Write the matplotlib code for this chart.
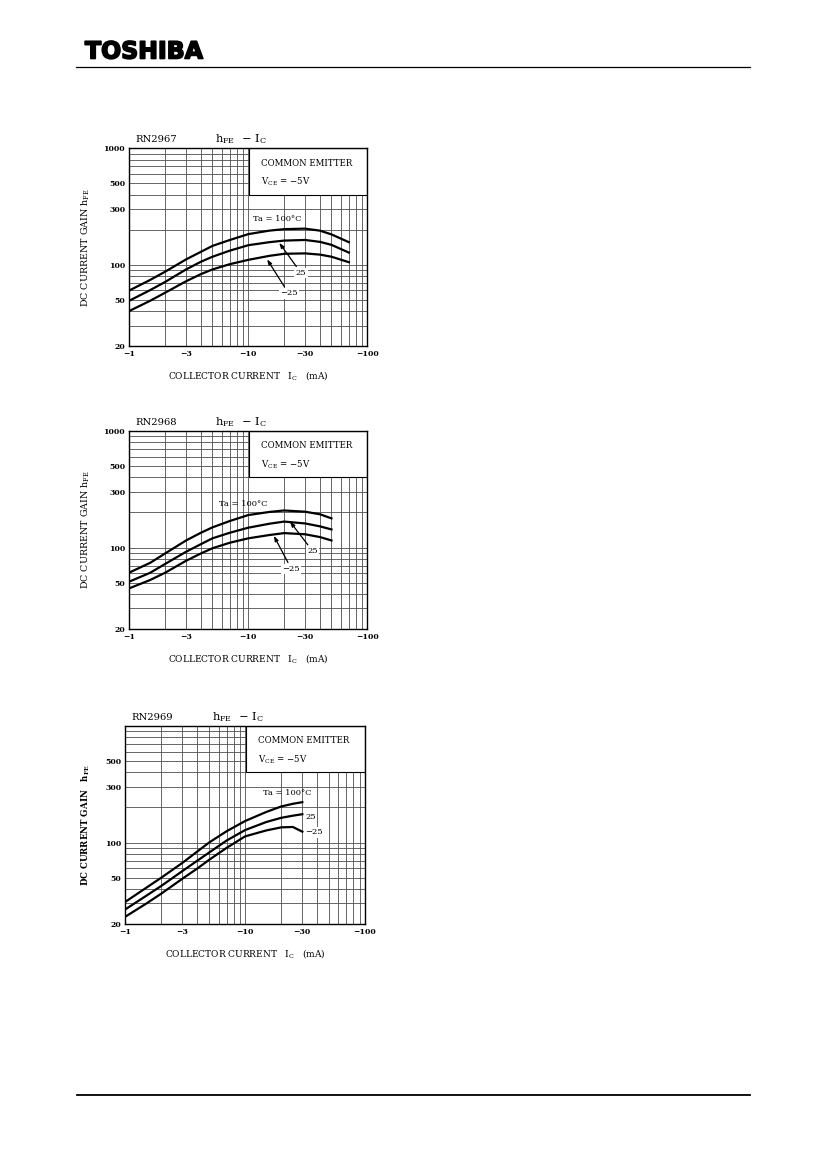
import matplotlib
matplotlib.use('Agg')
import matplotlib.pyplot as plt
import matplotlib.patheffects as pe
from matplotlib.lines import Line2D
from matplotlib.patches import Rectangle

# collector current magnitude (mA), shown as negative values on the axis
ic_2967 = [1, 1.5, 2, 3, 4, 5, 7, 10, 15, 20, 30, 40, 50, 70]
hfe_2967_100 = [60, 74, 87, 111, 129, 145, 163, 183, 196, 202, 204, 196, 182, 156]
hfe_2967_25 = [49, 60.5, 71, 91, 106, 117, 132, 147, 156, 161, 163, 157, 148, 127]
hfe_2967_m25 = [40, 49, 57.4, 72, 83, 91, 101, 110, 119, 124, 125, 122, 117, 105]

ic_2968 = [1, 1.5, 2, 3, 4, 5, 7, 10, 15, 20, 30, 40, 50]
hfe_2968_100 = [61, 74, 89, 115, 134, 149, 169, 190, 202, 208, 203, 193, 178]
hfe_2968_25 = [51, 60.8, 72.3, 92, 107, 120, 134, 148, 160, 167, 161, 152, 143]
hfe_2968_m25 = [44.7, 52.7, 60.8, 77, 89, 98.6, 110, 120, 128, 133, 130, 123, 115]

ic_2969 = [1, 1.5, 2, 3, 4, 5, 7, 10, 15, 20, 25, 30]
hfe_2969_100 = [31, 41, 50, 67, 84, 100, 125, 153, 183, 204, 215, 222]
hfe_2969_25 = [26.7, 35, 42.5, 57, 70, 82, 104, 128, 150, 163, 170, 175]
hfe_2969_m25 = [23.1, 30, 36.5, 49, 60, 71, 90, 113, 127, 135, 136, 124]

x_ticks = [1, 3, 10, 30, 100]
x_tick_labels = ['\u22121', '\u22123', '\u221210', '\u221230', '\u2212100']
y_ticks_full = [20, 50, 100, 300, 500, 1000]
y_ticks_3 = [20, 50, 100, 300, 500]

x_grid = [1, 2, 3, 4, 5, 6, 7, 8, 9, 10, 20, 30, 40, 50, 60, 70, 80, 90, 100]
y_grid = [20, 30, 40, 50, 60, 70, 80, 90, 100, 200, 300, 400, 500, 600, 700, 800, 900, 1000]

FIG_W = 827
FIG_H = 1169
MINUS = '\u2212'


def setRCParameters():

    plt.rcParams['font.family'] = 'DejaVu Serif'
    plt.rcParams['mathtext.fontset'] = 'dejavuserif'
    plt.rcParams['axes.linewidth'] = 1.0


def pxRect(x0, y0, x1, y1):
    # pixel box on the page -> figure fraction rect
    return [x0 / FIG_W, 1 - y1 / FIG_H, (x1 - x0) / FIG_W, (y1 - y0) / FIG_H]


def drawPage(fig):

    fig.text(85 / FIG_W, 1 - 58.5 / FIG_H, 'TOSHIBA', fontsize=17, fontweight='heavy',
             family='DejaVu Sans', ha='left', va='baseline',
             path_effects=[pe.withStroke(linewidth=1.2, foreground='black')])
    fig.add_artist(Line2D([76 / FIG_W, 750 / FIG_W], [1 - 66.5 / FIG_H] * 2,
                          transform=fig.transFigure, color='black', lw=0.9))
    fig.add_artist(Line2D([77 / FIG_W, 750 / FIG_W], [1 - 1095 / FIG_H] * 2,
                          transform=fig.transFigure, color='black', lw=1.3))


def makeChart(fig, rect, part, ic, curves, y_ticks, bold_ylabel=False):

    ax = fig.add_axes(rect)
    ax.set_xscale('log')
    ax.set_yscale('log')
    ax.set_xlim(1, 100)
    ax.set_ylim(20, 1000)

    for gx in x_grid:
        ax.axvline(gx, color='0.3', lw=0.6, zorder=1)
    for gy in y_grid:
        ax.axhline(gy, color='0.3', lw=0.6, zorder=1)

    ax.add_patch(Rectangle((10.1, 400), 100 - 10.1, 600, facecolor='white',
                           edgecolor='black', lw=0.8, zorder=2))
    ax.text(0.555, 0.925, 'COMMON EMITTER', transform=ax.transAxes, fontsize=6.2,
            ha='left', va='center', zorder=3)
    ax.text(0.555, 0.83, r'V$_{\mathrm{CE}}$ = ' + MINUS + '5V',
            transform=ax.transAxes, fontsize=6.2, ha='left', va='center', zorder=3)

    for hfe in curves:
        ax.plot(ic, hfe, color='black', lw=1.6, solid_joinstyle='round', zorder=4)

    ax.set_xticks(x_ticks)
    ax.set_xticklabels(x_tick_labels)
    ax.set_yticks(y_ticks)
    ax.set_yticklabels([str(v) for v in y_ticks])
    ax.minorticks_off()
    ax.tick_params(length=0, labelsize=5.6, pad=3)
    for lbl in ax.get_xticklabels() + ax.get_yticklabels():
        lbl.set_fontweight('bold')

    ax.set_xlabel(r'COLLECTOR CURRENT   I$_{\mathrm{C}}$   (mA)', fontsize=6.5, labelpad=8)
    if bold_ylabel:
        ax.set_ylabel(r'DC CURRENT GAIN   $\mathbf{h_{FE}}$', fontsize=6.2,
                      fontweight='bold', labelpad=9)
    else:
        ax.set_ylabel(r'DC CURRENT GAIN h$_{\mathrm{FE}}$', fontsize=6.8, labelpad=8)

    ax.text(0.025, 1.045, part, transform=ax.transAxes, fontsize=7.2, ha='left', va='center')
    ax.text(0.36, 1.045, r'h$_{\mathrm{FE}}$  ' + MINUS + r' I$_{\mathrm{C}}$',
            transform=ax.transAxes, fontsize=8.2, ha='left', va='center')

    for spine in ax.spines.values():
        spine.set_zorder(5)

    return ax


def labelArrow(ax, text, head, tail):

    ax.annotate(text, xy=head, xytext=tail, fontsize=6.0, ha='center', va='center', zorder=6,
                bbox=dict(boxstyle='square,pad=0.15', fc='white', ec='none'),
                arrowprops=dict(arrowstyle='-|>,head_length=0.5,head_width=0.18', color='black',
                                lw=0.9, shrinkA=1, shrinkB=0))


def main():

    setRCParameters()
    fig = plt.figure(figsize=(FIG_W / 100, FIG_H / 100), dpi=100)
    drawPage(fig)

    ax1 = makeChart(fig, pxRect(129.3, 148.3, 367.3, 346), 'RN2967', ic_2967,
                    [hfe_2967_100, hfe_2967_25, hfe_2967_m25], y_ticks_full)
    ax1.text(10.9, 247, 'Ta = 100\u00b0C', fontsize=6.0, ha='left', va='center', zorder=6)
    labelArrow(ax1, '25', (18.2, 154), (27.7, 85))
    labelArrow(ax1, MINUS + '25', (14.4, 111), (21.8, 56.7))

    ax2 = makeChart(fig, pxRect(129.3, 431, 367.3, 629), 'RN2968', ic_2968,
                    [hfe_2968_100, hfe_2968_25, hfe_2968_m25], y_ticks_full)
    ax2.text(5.7, 237, 'Ta = 100\u00b0C', fontsize=6.0, ha='left', va='center', zorder=6)
    labelArrow(ax2, '25', (22.4, 167), (34.8, 93))
    labelArrow(ax2, MINUS + '25', (16.4, 126), (23, 65.5))

    ax3 = makeChart(fig, pxRect(125.3, 726, 365, 924), 'RN2969', ic_2969,
                    [hfe_2969_100, hfe_2969_25, hfe_2969_m25], y_ticks_3, bold_ylabel=True)
    ax3.text(14.2, 265, 'Ta = 100\u00b0C', fontsize=6.0, ha='left', va='center', zorder=6)
    ax3.text(31.6, 167, '25', fontsize=6.0, ha='left', va='center', zorder=6,
             bbox=dict(boxstyle='square,pad=0.15', fc='white', ec='none'))
    ax3.text(31.6, 122, MINUS + '25', fontsize=6.0, ha='left', va='center', zorder=6,
             bbox=dict(boxstyle='square,pad=0.15', fc='white', ec='none'))

    fig.savefig('out.png', dpi=100)


if __name__ == '__main__':
    main()
